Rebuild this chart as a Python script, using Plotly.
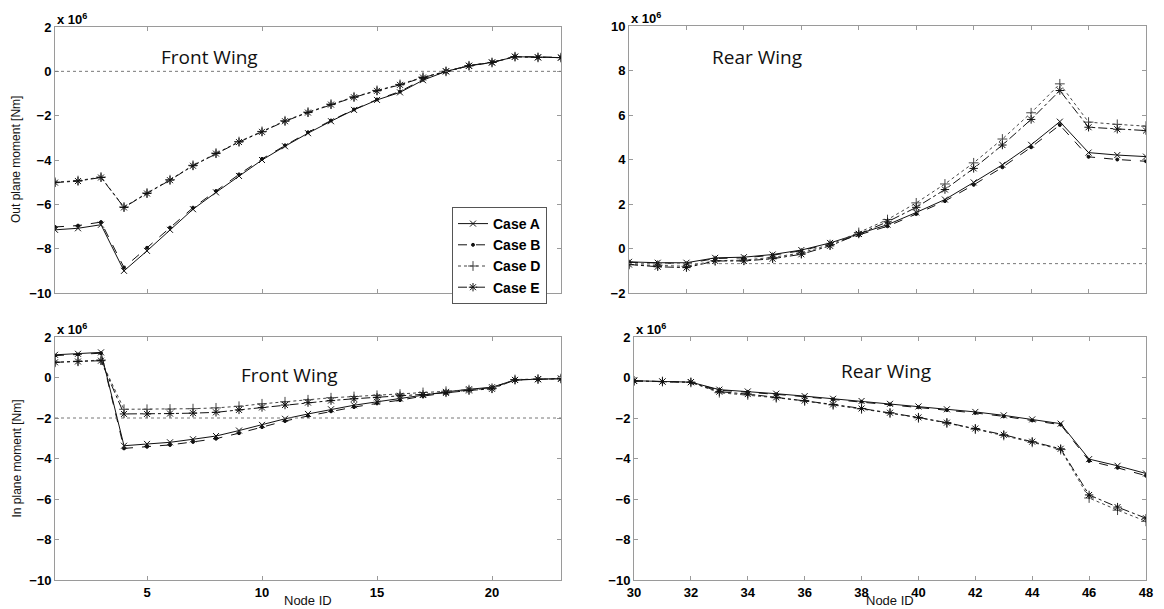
import plotly.graph_objects as go

# ---------------- data (units of 1e6 Nm) ----------------
front_nodes = list(range(1, 24))
rear_nodes = list(range(30, 49))
case_names = ["Case A", "Case B", "Case D", "Case E"]

# Out-plane moment, front wing
out_front_A = [-7.15, -7.08, -6.92, -9.00, -8.10, -7.15, -6.22, -5.46, -4.72, -4.00, -3.38, -2.79,
               -2.25, -1.74, -1.29, -0.95, -0.40, 0.00, 0.25, 0.40, 0.66, 0.63, 0.62]
out_front_B = [-7.02, -6.96, -6.80, -8.85, -7.96, -7.05, -6.15, -5.40, -4.65, -3.95, -3.34, -2.75,
               -2.22, -1.72, -1.27, -0.91, -0.36, 0.00, 0.26, 0.41, 0.67, 0.64, 0.63]
out_front_D = [-5.00, -4.93, -4.77, -6.12, -5.49, -4.89, -4.24, -3.69, -3.17, -2.71, -2.23, -1.84,
               -1.48, -1.15, -0.86, -0.59, -0.26, 0.00, 0.25, 0.40, 0.66, 0.63, 0.62]
out_front_E = [-5.02, -4.95, -4.79, -6.14, -5.51, -4.91, -4.26, -3.71, -3.19, -2.73, -2.25, -1.86,
               -1.50, -1.17, -0.88, -0.61, -0.28, 0.00, 0.25, 0.40, 0.66, 0.63, 0.62]

# Out-plane moment, rear wing
out_rear_A = [-0.60, -0.64, -0.64, -0.42, -0.39, -0.27, -0.07, 0.25, 0.66, 1.07, 1.62, 2.20,
              2.97, 3.76, 4.66, 5.70, 4.31, 4.20, 4.13]
out_rear_B = [-0.62, -0.66, -0.68, -0.45, -0.42, -0.30, -0.10, 0.22, 0.60, 1.00, 1.55, 2.13,
              2.86, 3.65, 4.55, 5.55, 4.12, 4.00, 3.92]
out_rear_D = [-0.72, -0.75, -0.80, -0.55, -0.52, -0.40, -0.20, 0.18, 0.72, 1.30, 2.05, 2.90,
              3.85, 4.92, 6.10, 7.40, 5.68, 5.58, 5.50]
out_rear_E = [-0.72, -0.82, -0.86, -0.56, -0.56, -0.46, -0.26, 0.12, 0.65, 1.20, 1.85, 2.65,
              3.60, 4.65, 5.80, 7.10, 5.45, 5.36, 5.30]

# In-plane moment, front wing
in_front_A = [1.12, 1.17, 1.24, -3.37, -3.28, -3.20, -3.05, -2.89, -2.62, -2.34, -2.04, -1.80,
              -1.57, -1.37, -1.20, -1.04, -0.86, -0.71, -0.58, -0.48, -0.12, -0.08, -0.05]
in_front_B = [1.08, 1.13, 1.20, -3.50, -3.42, -3.33, -3.18, -3.02, -2.75, -2.45, -2.15, -1.90,
              -1.67, -1.46, -1.28, -1.12, -0.92, -0.75, -0.61, -0.50, -0.13, -0.09, -0.06]
in_front_D = [0.75, 0.80, 0.86, -1.57, -1.57, -1.56, -1.54, -1.50, -1.42, -1.30, -1.20, -1.10,
              -1.00, -0.94, -0.88, -0.82, -0.74, -0.68, -0.60, -0.53, -0.10, -0.07, -0.05]
in_front_E = [0.75, 0.79, 0.83, -1.80, -1.80, -1.78, -1.76, -1.72, -1.60, -1.48, -1.36, -1.24,
              -1.14, -1.05, -0.98, -0.90, -0.84, -0.76, -0.64, -0.56, -0.12, -0.09, -0.06]

# In-plane moment, rear wing
in_rear_A = [-0.16, -0.20, -0.23, -0.60, -0.69, -0.80, -0.92, -1.05, -1.16, -1.30, -1.43, -1.57,
             -1.70, -1.87, -2.07, -2.28, -4.03, -4.36, -4.74]
in_rear_B = [-0.17, -0.21, -0.24, -0.63, -0.72, -0.83, -0.95, -1.08, -1.20, -1.33, -1.47, -1.61,
             -1.75, -1.92, -2.12, -2.33, -4.12, -4.46, -4.85]
in_rear_D = [-0.17, -0.20, -0.24, -0.75, -0.86, -1.00, -1.16, -1.35, -1.55, -1.76, -1.99, -2.25,
             -2.55, -2.86, -3.20, -3.56, -5.95, -6.55, -7.10]
in_rear_E = [-0.17, -0.20, -0.23, -0.70, -0.82, -0.98, -1.14, -1.33, -1.53, -1.74, -1.97, -2.23,
             -2.52, -2.83, -3.17, -3.52, -5.80, -6.40, -6.95]

# dotted reference levels per panel (None = no line)
ref_levels = [0.0, -0.68, -2.0, None]

front_ticks = [5, 10, 15, 20]
rear_ticks = [30, 32, 34, 36, 38, 40, 42, 44, 46, 48]
y_ticks_low = [-10, -8, -6, -4, -2, 0, 2]
y_ticks_high = [-2, 0, 2, 4, 6, 8, 10]

panel_titles = ["Front Wing", "Rear Wing", "Front Wing", "Rear Wing"]
y_titles = ["Out plane moment [Nm]", None, "In plane moment [Nm]", None]
x_titles = [None, None, "Node ID", "Node ID"]

# ---------------- styles ----------------
styles = [
    dict(dash="solid", symbol="x-thin-open", size=6, color="#111111"),
    dict(dash="dash", symbol="circle", size=3, color="#111111"),
    dict(dash="dot", symbol="cross-thin-open", size=7, color="#444444"),
    dict(dash="dashdot", symbol="asterisk-open", size=7, color="#111111"),
]

# page offset (body margin) and figure size
OFF = 8
W, H = 1164 - OFF, 609 - OFF


def fx(px):
    return (px - OFF) / W


def fy(py):
    return 1 - (py - OFF) / H


panels = [
    dict(x=front_nodes, ys=[out_front_A, out_front_B, out_front_D, out_front_E],
         xr=[1, 23], xt=front_ticks, yr=[-10, 2], yt=y_ticks_low,
         px=(55, 561), py=(27, 293), showx=False, tpos=(0.306, 0.887)),
    dict(x=rear_nodes, ys=[out_rear_A, out_rear_B, out_rear_D, out_rear_E],
         xr=[30, 48], xt=rear_ticks, yr=[-2, 10], yt=y_ticks_high,
         px=(629, 1146), py=(26, 293), showx=False, tpos=(0.248, 0.883)),
    dict(x=front_nodes, ys=[in_front_A, in_front_B, in_front_D, in_front_E],
         xr=[1, 23], xt=front_ticks, yr=[-10, 2], yt=y_ticks_low,
         px=(55, 561), py=(337, 580), showx=True, tpos=(0.464, 0.844)),
    dict(x=rear_nodes, ys=[in_rear_A, in_rear_B, in_rear_D, in_rear_E],
         xr=[30, 48], xt=rear_ticks, yr=[-10, 2], yt=y_ticks_low,
         px=(634, 1146), py=(337, 580), showx=True, tpos=(0.492, 0.86)),
]

fig = go.Figure()
layout = {}
annotations = []
shapes = []
tickfont = dict(family="Liberation Sans", size=13, color="#000000", weight=700)
axcolor = "#9a9a9a"

for i, p in enumerate(panels):
    n = "" if i == 0 else str(i + 1)
    xref, yref = "x" + n, "y" + n
    for k, ys in enumerate(p["ys"]):
        st = styles[k]
        fig.add_trace(go.Scatter(
            x=p["x"], y=ys, xaxis=xref, yaxis=yref, mode="lines+markers",
            name=case_names[k], showlegend=(i == 0),
            line=dict(color=st["color"], width=1, dash=st["dash"]),
            marker=dict(symbol=st["symbol"], size=st["size"], color=st["color"],
                        line=dict(width=1, color=st["color"])),
        ))
    xd = [fx(p["px"][0]), fx(p["px"][1])]
    yd = [fy(p["py"][1]), fy(p["py"][0])]
    layout["xaxis" + n] = dict(
        domain=xd, anchor=yref, range=p["xr"], tickvals=p["xt"],
        showticklabels=p["showx"], ticks="inside", ticklen=4, tickcolor=axcolor,
        showline=True, linecolor=axcolor, linewidth=1, mirror="allticks",
        showgrid=False, zeroline=False, tickfont=tickfont, automargin=False,
    )
    layout["yaxis" + n] = dict(
        domain=yd, anchor=xref, range=p["yr"], tickvals=p["yt"],
        ticks="inside", ticklen=4, tickcolor=axcolor,
        showline=True, linecolor=axcolor, linewidth=1, mirror="allticks",
        showgrid=False, zeroline=False, tickfont=tickfont, automargin=False,
    )
    # multiplier label
    annotations.append(dict(
        text="x 10<sup>6</sup>", xref=xref + " domain", yref=yref + " domain",
        x=0.0, y=1.0, xanchor="left", yanchor="bottom", showarrow=False,
        xshift=0, yshift=-2,
        font=dict(family="Liberation Sans", size=13, color="#000000", weight=700),
    ))
    # panel title
    annotations.append(dict(
        text=panel_titles[i], xref=xref + " domain", yref=yref + " domain",
        x=p["tpos"][0], y=p["tpos"][1], xanchor="center", yanchor="middle",
        showarrow=False, font=dict(family="Open Sans", size=19, color="#111111"),
    ))
    if y_titles[i]:
        annotations.append(dict(
            text=y_titles[i], xref="paper", yref=yref + " domain",
            x=fx(16), y=0.5, xanchor="center", yanchor="middle", textangle=-90,
            showarrow=False, font=dict(family="Liberation Sans", size=12, color="#111111"),
        ))
    if x_titles[i]:
        annotations.append(dict(
            text=x_titles[i], xref=xref + " domain", yref="paper",
            x=0.5, y=fy(600), xanchor="center", yanchor="middle",
            showarrow=False, font=dict(family="Liberation Sans", size=13, color="#111111"),
        ))
    if ref_levels[i] is not None:
        shapes.append(dict(
            type="line", xref=xref + " domain", yref=yref, x0=0, x1=1,
            y0=ref_levels[i], y1=ref_levels[i],
            line=dict(color="#777777", width=1, dash="dot"),
        ))

fig.update_layout(
    **layout,
    annotations=annotations,
    shapes=shapes,
    width=W, height=H,
    margin=dict(l=0, r=0, t=0, b=0),
    paper_bgcolor="white", plot_bgcolor="white",
    showlegend=True,
    legend=dict(
        x=fx(452), y=fy(207), xanchor="left", yanchor="top",
        bgcolor="white", bordercolor="#555555", borderwidth=1,
        font=dict(family="Liberation Sans", size=14, color="#000000", weight=700),
        itemwidth=30, tracegroupgap=0,
    ),
)

fig.write_html("out.html")
